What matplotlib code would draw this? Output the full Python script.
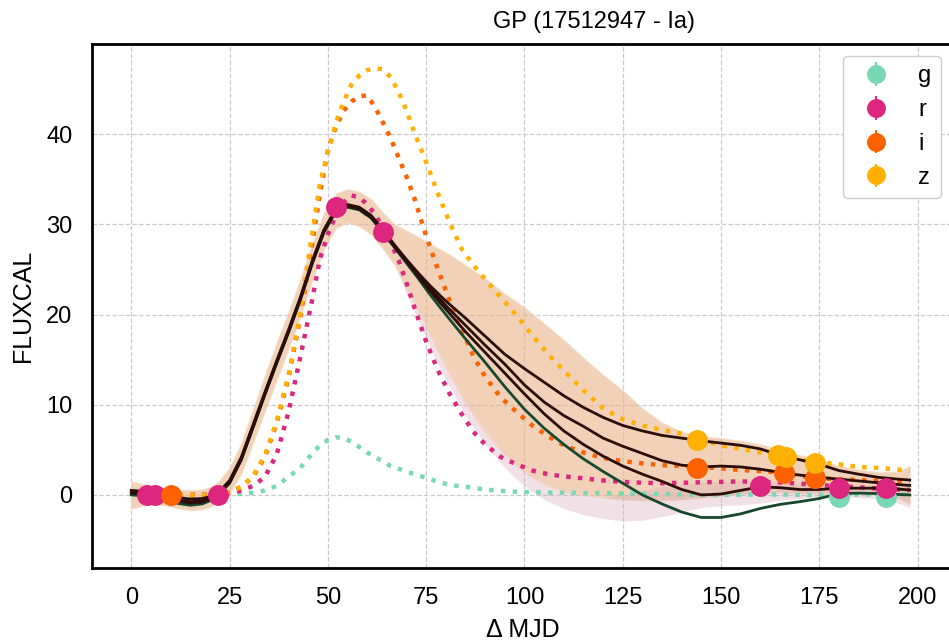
import numpy as np
import matplotlib
matplotlib.use("Agg")
import matplotlib.pyplot as plt

plt.rcParams['font.family'] = ['Liberation Sans', 'DejaVu Sans']

BANDS = ['g', 'r', 'i', 'z']
COLORS = {'g': '#78d8b4', 'r': '#dc267f', 'i': '#fe6100', 'z': '#ffb000'}

# observations
g_mjd = [180, 192]
g_flux = [-0.2, -0.2]
g_err = [0.4, 0.4]
r_mjd = [4, 6, 22, 52, 64, 160, 180, 192]
r_flux = [0.0, 0.0, 0.0, 31.9, 29.1, 1.0, 0.75, 0.75]
r_err = [0.4, 0.4, 0.4, 0.6, 0.6, 0.4, 0.4, 0.4]
i_mjd = [10, 144, 166, 174]
i_flux = [0.0, 3.0, 2.4, 1.9]
i_err = [0.4, 0.4, 0.4, 0.4]
z_mjd = [144, 164.5, 166.5, 174]
z_flux = [6.1, 4.4, 4.2, 3.5]
z_err = [0.4, 0.4, 0.4, 0.4]

# GP mean per band (dotted)
grid_dot = [3, 10, 18, 22, 25, 28, 31, 34, 37, 40,
            43, 46, 48, 50, 52, 54, 56, 58, 60, 62,
            64, 66, 68, 70, 72, 75, 78, 81, 84, 87,
            90, 94, 98, 102, 106, 110, 115, 120, 125, 130,
            135, 140, 145, 150, 155, 160, 165, 170, 175, 180,
            185, 190, 195, 198]
g_mean = [0, 0, 0, 0, 0.05, 0.12, 0.25, 0.5, 1.0, 2.0,
          3.0, 4.6, 5.5, 6.1, 6.4, 6.3, 5.9, 5.3, 4.7, 4.2,
          3.7, 3.2, 2.9, 2.6, 2.3, 1.9, 1.45, 1.1, 0.95, 0.8,
          0.6, 0.45, 0.35, 0.3, 0.25, 0.25, 0.2, 0.2, 0.15, 0.15,
          0.1, 0.05, 0.0, 0.0, 0.0, 0.05, 0.05, 0.0, 0.0, 0.0,
          0.05, 0.05, 0.05, 0.05]
r_mean = [0, 0, 0, 0.05, 0.2, 0.5, 1.0, 2.0, 4.5, 9.2,
          15.3, 21.6, 26.2, 28.9, 31.0, 32.4, 33.2, 33.0, 32.2, 31.1,
          29.6, 28.0, 26.0, 23.5, 20.8, 17.0, 13.8, 11.2, 9.0, 7.0,
          5.6, 4.2, 3.4, 2.7, 2.3, 2.05, 1.85, 1.6, 1.45, 1.35,
          1.3, 1.35, 1.4, 1.45, 1.5, 1.45, 1.4, 1.25, 1.1, 0.95,
          0.85, 0.7, 0.6, 0.55]
i_mean = [0, 0, 0, 0.05, 0.3, 0.9, 2.0, 4.2, 8.0, 13.0,
          19.7, 27.8, 33.5, 38.2, 40.8, 42.6, 43.6, 44.2, 44.3, 43.0,
          41.3, 39.5, 37.4, 35.3, 32.9, 28.7, 25.0, 21.5, 18.4, 15.4,
          13.1, 10.8, 9.2, 7.7, 6.5, 5.5, 4.7, 4.1, 3.75, 3.5,
          3.3, 3.2, 3.1, 2.95, 2.75, 2.65, 2.5, 2.1, 1.85, 1.75,
          1.65, 1.55, 1.5, 1.5]
z_mean = [0, 0, 0, 0.05, 0.3, 0.9, 2.1, 4.4, 8.2, 13.3,
          20.2, 29.0, 34.6, 38.0, 41.2, 43.6, 45.5, 46.5, 47.1, 47.3,
          47.2, 46.3, 44.7, 42.6, 40.2, 36.9, 33.4, 30.2, 27.3, 25.5,
          23.9, 21.9, 19.9, 17.7, 15.6, 13.8, 11.6, 9.6, 8.4, 7.7,
          7.2, 6.8, 6.1, 5.5, 5.1, 4.7, 4.3, 3.9, 3.6, 3.4,
          3.1, 3.0, 2.8, 2.7]

# 2D GP predictions (solid)
grid_sol = [0, 3, 6, 9, 12, 15, 18, 20, 22, 25,
            28, 31, 34, 37, 40, 43, 46, 49, 52, 55,
            58, 61, 64, 67, 70, 73, 76, 80, 85, 90,
            95, 100, 105, 110, 115, 120, 125, 130, 135, 140,
            145, 150, 155, 160, 165, 170, 175, 180, 185, 190,
            195, 198]
pred_a = [0.5, 0.4, 0.2, -0.05, -0.3, -0.45, -0.4, -0.2, 0.2, 1.6,
          4.2, 7.8, 11.4, 14.9, 18.3, 21.9, 25.9, 29.4, 31.7, 32.2,
          31.9, 31.0, 29.4, 27.7, 26.1, 24.6, 23.2, 21.5, 19.6, 17.6,
          15.6, 14.0, 12.5, 11.0, 9.7, 8.6, 7.7, 7.1, 6.6, 6.3,
          6.0, 5.75, 5.5, 5.1, 4.4, 3.9, 3.4, 2.7, 2.3, 1.95,
          1.75, 1.65]
pred_b = [0.3, 0.2, 0.0, -0.25, -0.55, -0.75, -0.65, -0.4, 0.05, 1.45,
          4.05, 7.65, 11.3, 14.8, 18.2, 21.8, 25.8, 29.3, 31.6, 32.1,
          31.8, 30.9, 29.3, 27.6, 26.0, 24.4, 22.9, 21.0, 18.8, 16.6,
          14.5, 12.2, 10.3, 8.8, 7.6, 6.3, 5.4, 4.6, 3.8, 3.3,
          3.1, 3.2, 3.1, 2.85, 2.5, 2.2, 1.95, 1.75, 1.55, 1.35,
          1.15, 1.05]
pred_c = [0.2, 0.1, -0.1, -0.4, -0.7, -0.9, -0.8, -0.5, 0.0, 1.35,
          3.95, 7.55, 11.2, 14.7, 18.1, 21.7, 25.7, 29.2, 31.5, 32.0,
          31.7, 30.8, 29.2, 27.5, 25.9, 24.2, 22.6, 20.6, 18.1, 15.8,
          13.5, 11.2, 9.0, 7.1, 5.6, 4.3, 3.2, 2.3, 1.5, 0.6,
          0.0, 0.1, 0.5, 0.9, 0.8, 0.6, 0.6, 0.75, 0.75, 0.75,
          0.65, 0.55]
pred_d = [0.0, -0.1, -0.3, -0.6, -0.95, -1.15, -1.0, -0.65, -0.1, 1.3,
          3.9, 7.5, 11.1, 14.6, 18.0, 21.6, 25.6, 29.1, 31.4, 31.9,
          31.6, 30.7, 29.1, 27.4, 25.7, 24.0, 22.2, 20.0, 17.3, 14.7,
          12.0, 9.5, 7.4, 5.6, 4.0, 2.6, 1.3, 0.0, -1.0, -1.9,
          -2.5, -2.5, -2.1, -1.5, -1.05, -0.75, -0.4, 0.15, 0.2, 0.15,
          0.05, 0.0]

# uncertainty envelopes
band_hi = [1.5, 1.2, 0.9, 0.7, 0.6, 0.5, 0.6, 0.9, 1.4, 3.0,
           5.8, 9.5, 13.3, 16.9, 20.3, 23.9, 27.8, 31.2, 33.4, 33.9,
           33.6, 32.8, 31.3, 30.0, 29.3, 28.6, 27.8, 26.9, 25.5, 24.0,
           22.3, 20.8, 19.0, 17.2, 15.2, 13.3, 11.6, 9.6, 8.0, 7.0,
           6.5, 6.3, 6.0, 5.6, 5.0, 4.4, 3.9, 3.2, 2.8, 2.5,
           2.6, 3.2]
band_lo = [-1.5, -1.2, -1.0, -1.2, -1.5, -1.7, -1.6, -1.3, -0.8, 0.2,
           2.4, 5.8, 9.3, 12.8, 16.2, 19.8, 23.8, 27.3, 29.6, 30.2,
           29.8, 28.9, 27.3, 25.5, 23.0, 20.5, 17.8, 14.2, 10.2, 7.0,
           4.5, 2.5, 1.2, 0.4, 0.0, -0.3, -0.5, -0.6, -0.6, -0.5,
           -0.3, -0.1, 0.1, 0.3, 0.3, 0.2, 0.2, 0.2, 0.3, 0.2,
           -0.3, -1.0]
grid_pink = [64, 67, 70, 73, 76, 80, 85, 90, 95, 100,
             105, 110, 115, 120, 125, 130, 135, 140, 145, 150,
             155, 160, 165, 170, 175, 180, 185, 190, 195, 198]
pink_lo = [27.3, 25.5, 22.3, 19.3, 16.3, 12.8, 8.8, 5.6, 3.0, 1.0,
           -0.5, -1.5, -2.2, -2.6, -2.9, -2.8, -2.4, -1.9, -1.4, -1.2,
           -1.1, -0.9, -0.6, -0.4, -0.2, -0.2, -0.3, -0.4, -0.9, -1.4]
pink_hi = [27.3, 25.5, 23.0, 20.5, 17.8, 14.2, 10.2, 7.0, 4.5, 2.5,
           1.2, 0.4, 0.0, -0.3, 0.0, 0.5, 0.9, 1.2, 1.4, 1.5,
           1.6, 1.6, 1.4, 1.2, 1.0, 0.9, 0.9, 0.9, 0.9, 1.0]

obs = {'g': (g_mjd, g_flux, g_err), 'r': (r_mjd, r_flux, r_err),
       'i': (i_mjd, i_flux, i_err), 'z': (z_mjd, z_flux, z_err)}
means = {'g': g_mean, 'r': r_mean, 'i': i_mean, 'z': z_mean}

fig = plt.figure(figsize=(9.49, 6.42), dpi=100)
ax = fig.add_axes([0.0969, 0.1153, 0.9073, 0.8162])

ax.fill_between(grid_sol, band_lo, band_hi, color='#e9b48a', alpha=0.6,
                edgecolor='#f5d9bd', lw=1.0, zorder=1)
ax.fill_between(grid_pink, pink_lo, pink_hi, color='#d9a7b8', alpha=0.35,
                lw=0, zorder=1)

for band in BANDS:
    ax.plot(grid_dot, means[band], ls=':', lw=3.2, color=COLORS[band], zorder=2)

ax.plot(grid_sol, pred_d, color='#17482e', lw=2, zorder=3)
for pred in (pred_c, pred_b, pred_a):
    ax.plot(grid_sol, pred, color='#2b0d0a', lw=2, zorder=3)

for band in BANDS:
    mjd, flux, err = obs[band]
    ax.errorbar(mjd, flux, yerr=err, fmt='o', ms=14, color=COLORS[band],
                ecolor=COLORS[band], elinewidth=1.5, capsize=0, label=band, zorder=5)

ax.set_xlim(-10, 209)
ax.set_ylim(-8.1, 50)
ax.set_xticks([0, 25, 50, 75, 100, 125, 150, 175, 200])
ax.set_yticks([0, 10, 20, 30, 40])
ax.grid(True, ls='--', color='#cccccc', lw=0.9)
ax.set_axisbelow(True)
for s in ax.spines.values():
    s.set_color('black')
    s.set_linewidth(2)
ax.tick_params(length=0, pad=14, labelsize=17)
ax.set_xlabel('Δ MJD', fontsize=18, labelpad=6)
ax.set_ylabel('FLUXCAL', fontsize=18, labelpad=8)

leg = ax.legend(loc='upper right', fontsize=17, frameon=True, fancybox=True,
                framealpha=1, edgecolor='#cccccc', markerscale=0.9, borderaxespad=0.5)

fig.text(0.626, 0.965, 'GP (17512947 - Ia)', ha='center', va='center', fontsize=17)

fig.savefig('out.png', dpi=100)
